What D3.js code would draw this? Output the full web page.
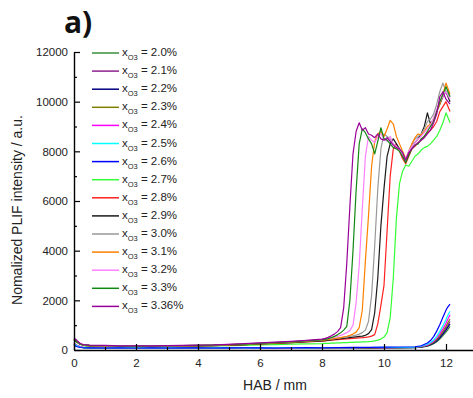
<!DOCTYPE html>
<html>
<head>
<meta charset="utf-8">
<script src="https://cdn.jsdelivr.net/npm/d3@7"></script>
<style>
  html, body { margin: 0; padding: 0; background: #fff; }
  svg { display: block; }
</style>
</head>
<body>
<svg id="chart" width="473" height="398"></svg>
<script>
// ---------- DATA ----------
const legendLabels = ["2.0%", "2.1%", "2.2%", "2.3%", "2.4%", "2.5%", "2.6%", "2.7%", "2.8%", "2.9%", "3.0%", "3.1%", "3.2%", "3.3%", "3.36%"];
const seriesColors = ["#3a8f3a", "#8e1f8e", "#000080", "#808000", "#ff00ff", "#00ffff", "#0000ff", "#33ff33", "#ff2020", "#1a1a1a", "#999999", "#ff8000", "#ff80ff", "#118811", "#990099"];

const xTicks = [0, 2, 4, 6, 8, 10, 12];
const xMinorTicks = [1, 3, 5, 7, 9, 11];
const yTicks = [0, 2000, 4000, 6000, 8000, 10000, 12000];
const yMinorTicks = [1000, 3000, 5000, 7000, 9000, 11000];

// HAB grid for the low-signal series (x_O3 = 2.0 - 2.6 %)
const habLow = [0, 0.1, 0.2, 0.3, 0.5, 1, 1.5, 2, 2.5, 3, 3.5, 4, 4.5, 5, 5.5, 6, 6.5, 7, 7.5, 8, 8.5, 9, 9.5, 10, 10.5, 11, 11.2, 11.4, 11.5, 11.6, 11.7, 11.8, 11.9, 12.0, 12.05, 12.13];
const x20 = [240,170,120,95,85,80,75,90,70,80,75,85,70,80,75,85,80,70,80,85,75,80,85,90,85,95,110,150,190,250,330,440,580,720,800,950];
const x21 = [260,180,130,100,90,85,80,75,85,80,90,80,75,85,80,80,90,85,75,80,90,85,80,95,90,100,120,170,220,290,390,530,700,880,980,1150];
const x22 = [230,160,110,90,80,75,70,80,75,70,80,75,80,70,75,80,75,80,85,75,80,85,80,85,90,95,115,160,210,270,360,490,640,800,900,1050];
const x23 = [250,175,125,95,85,90,80,85,80,90,80,85,90,80,85,90,80,85,90,85,95,90,85,90,95,100,125,180,240,310,420,580,760,950,1080,1250];
const x24 = [270,190,135,105,95,90,85,80,90,85,80,90,85,80,90,85,95,85,90,95,90,95,100,95,100,110,140,200,270,350,480,650,850,1080,1220,1420];
const x25 = [250,170,120,95,85,80,90,85,80,85,90,80,85,90,80,85,90,95,85,90,95,90,100,105,100,115,150,230,300,400,550,750,980,1230,1380,1560];
const x26 = [180,130,100,90,85,80,85,80,85,80,85,90,80,85,90,85,80,90,95,90,100,110,105,115,120,130,170,280,380,540,760,1020,1320,1600,1720,1850];

// HAB grid for the high-signal series (x_O3 = 2.7 - 3.36 %)
const habHigh = [0, 0.1, 0.2, 0.3, 0.5, 1, 1.5, 2, 2.5, 3, 3.5, 4, 4.5, 5, 5.5, 6, 6.5, 7, 7.5, 8,
  8.1, 8.2, 8.3, 8.4, 8.5, 8.6, 8.7, 8.8, 8.9, 9.0,
  9.1, 9.2, 9.3, 9.4, 9.5, 9.6, 9.7, 9.8, 9.9, 10.0,
  10.1, 10.2, 10.3, 10.4, 10.5, 10.6, 10.7, 10.8, 10.9, 11.0,
  11.1, 11.2, 11.3, 11.4, 11.5, 11.6, 11.7, 11.8, 11.9, 12.0, 12.13];
const x27 = [380,300,220,180,160,150,140,135,140,145,150,160,165,175,190,205,220,235,250,260,
  265,270,275,280,285,290,295,300,305,310,
  315,320,325,330,335,350,370,400,440,520,
  700,1300,2900,5300,6700,7200,7450,7400,7600,7800,
  7900,8050,8150,8200,8300,8450,8600,8850,9150,9550,9150];
const x28 = [420,330,240,200,180,165,150,145,150,155,165,175,180,200,220,245,270,300,330,360,
  370,385,395,405,415,425,435,445,455,465,
  475,485,495,510,530,560,620,1050,1800,2600,
  4800,7000,8100,8300,8000,7700,7500,7800,8100,8200,
  8350,8450,8600,8750,8850,9000,9200,9600,9800,10000,9600];
const x29 = [400,310,230,190,170,160,150,140,145,150,160,170,180,200,220,245,275,300,335,370,
  380,395,410,425,440,455,470,485,500,515,
  530,545,560,590,660,820,1500,2900,5000,6500,
  7800,8300,8500,8300,8100,7800,7600,7900,8200,8350,
  8500,8700,9000,9550,9100,9300,9600,9900,10200,10400,10000];
const x30 = [440,340,250,205,185,170,160,155,160,165,175,185,195,215,240,265,295,325,360,400,
  415,430,445,460,475,490,510,530,550,575,
  600,640,700,800,1150,2200,4200,6500,8100,8700,
  8600,8500,8300,8200,8100,7800,7600,8000,8300,8500,
  8600,8700,8900,9200,9300,9500,9900,10400,10750,10400,10200];
const x31 = [430,330,240,200,180,170,155,150,155,165,170,180,190,210,235,260,290,320,355,395,
  410,425,440,460,480,500,525,555,590,640,
  720,900,1600,3600,5400,7400,8400,8700,8800,8600,
  8900,9250,9100,8600,8300,8000,7700,8000,8300,8550,
  8700,8650,8800,9000,9100,9300,9600,9900,10300,10750,10300];
const x32 = [450,350,255,210,190,175,165,160,165,170,180,190,200,225,250,275,305,340,375,420,
  440,460,485,510,545,590,640,700,780,1000,
  1900,3400,5700,7800,8600,8450,8350,8600,8700,8500,
  8400,8600,8300,8200,8050,7850,7700,8000,8200,8350,
  8500,8600,8750,8900,9050,9350,9700,10000,10200,10400,10100];
const x33 = [420,330,240,205,185,175,160,155,160,165,175,185,195,215,240,265,295,330,365,410,
  430,460,500,550,610,690,800,950,2000,4000,
  6400,8300,8900,8750,8500,8300,7900,8400,8950,8500,
  8450,8300,8150,8100,8000,7800,7550,7850,8100,8250,
  8300,8500,8600,8800,9000,9200,9600,10000,10300,10600,10200];
const x34 = [480,380,260,220,200,185,170,165,170,175,185,195,205,230,255,285,315,350,390,440,
  470,510,570,640,740,900,1700,3500,5800,7900,
  8800,9150,8850,8950,8700,8650,8550,8700,8500,8450,
  8550,8400,8250,8150,8100,7950,7650,7950,8100,8250,
  8350,8450,8550,8700,8850,9150,9500,10200,10400,10100,9900];

// ---------- BUILD ----------
const lowValues = [x20, x21, x22, x23, x24, x25, x26];
const highValues = [x27, x28, x29, x30, x31, x32, x33, x34];
const series = [];
lowValues.forEach((v, i) => series.push({ label: legendLabels[i], color: seriesColors[i], pts: habLow.map((h, j) => [h, v[j]]) }));
highValues.forEach((v, i) => series.push({ label: legendLabels[7 + i], color: seriesColors[7 + i], pts: habHigh.map((h, j) => [h, v[j]]) }));

const svg = d3.select("#chart");
const font = "'Liberation Sans', Arial, Helvetica, sans-serif";

const x = d3.scaleLinear().domain([0, 13]).range([74, 477]);
const y = d3.scaleLinear().domain([0, 12000]).range([350, 52]);

// lines
const line = d3.line().x(d => x(d[0])).y(d => y(d[1]));
svg.append("g").selectAll("path").data(series).join("path")
  .attr("d", d => line(d.pts))
  .attr("fill", "none")
  .attr("stroke", d => d.color)
  .attr("stroke-width", 1.2)
  .attr("stroke-linejoin", "round");

// axes
const xAxis = svg.append("g").attr("transform", `translate(0,${y(0)})`)
  .call(d3.axisBottom(x).tickValues(xTicks).tickSize(-6).tickSizeOuter(0).tickPadding(9).tickFormat(d3.format("d")));
svg.append("g").attr("transform", `translate(0,${y(0)})`)
  .call(d3.axisBottom(x).tickValues(xMinorTicks).tickSize(-3).tickFormat(""))
  .call(g => g.select(".domain").remove());
const yAxis = svg.append("g").attr("transform", `translate(${x(0)},0)`)
  .call(d3.axisLeft(y).tickValues(yTicks).tickSize(-6).tickSizeOuter(0).tickPadding(6).tickFormat(d3.format("d")));
svg.append("g").attr("transform", `translate(${x(0)},0)`)
  .call(d3.axisLeft(y).tickValues(yMinorTicks).tickSize(-3).tickFormat(""))
  .call(g => g.select(".domain").remove());

svg.selectAll(".domain").attr("stroke", "#000").attr("stroke-width", 1.4);
svg.selectAll(".tick line").attr("stroke", "#000").attr("stroke-width", 1.2);
svg.selectAll(".tick text").attr("font-family", font).attr("font-size", 11.5).attr("fill", "#222");

// axis titles
svg.append("text").attr("x", 275).attr("y", 390).attr("text-anchor", "middle")
  .attr("font-family", font).attr("font-size", 14).attr("fill", "#222").text("HAB / mm");
svg.append("text").attr("transform", "translate(22,210) rotate(-90)").attr("text-anchor", "middle")
  .attr("font-family", font).attr("font-size", 14).attr("fill", "#222").text("Nomalized PLIF intensity / a.u.");

// panel label
svg.append("text").attr("x", 64).attr("y", 33)
  .attr("font-family", "'Open Sans', 'DejaVu Sans', sans-serif").attr("font-weight", 700)
  .attr("font-size", 30).attr("fill", "#111").text("a)");

// legend
const leg = svg.append("g");
series.forEach((s, i) => {
  const ly = 53 + i * 18.1;
  leg.append("line").attr("x1", 92).attr("x2", 119).attr("y1", ly).attr("y2", ly)
    .attr("stroke", s.color).attr("stroke-width", 1.5);
  const t = leg.append("text").attr("x", 122).attr("y", ly + 3)
    .attr("font-family", font).attr("font-size", 11.5).attr("fill", "#222");
  t.append("tspan").text("x");
  t.append("tspan").attr("font-size", 7.5).attr("dy", 4).text("O3");
  t.append("tspan").attr("dy", -4).text(" = " + s.label);
});
</script>
</body>
</html>
